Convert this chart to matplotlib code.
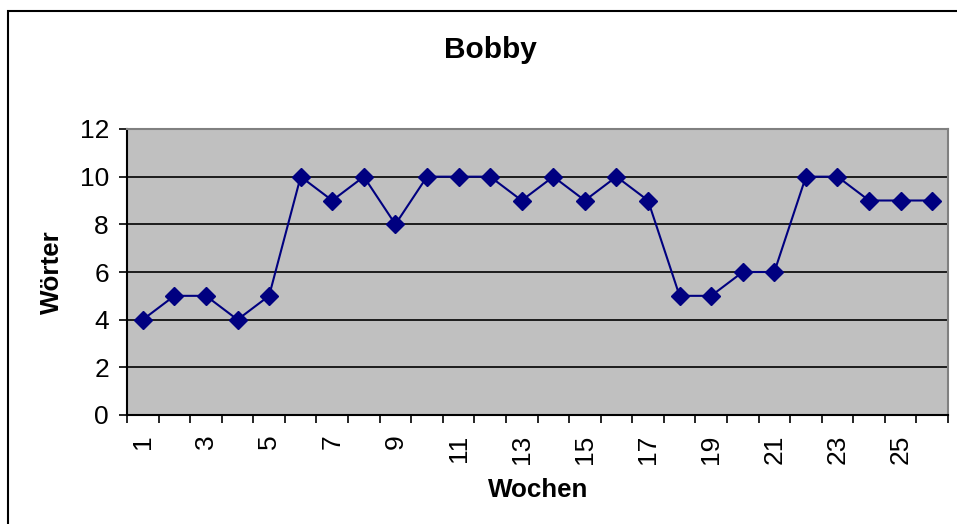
import matplotlib.pyplot as plt
from matplotlib.patches import Rectangle

wochen = list(range(1, 27))
woerter = [4, 5, 5, 4, 5, 10, 9, 10, 8, 10, 10, 10, 9, 10, 9, 10, 9, 5, 5, 6, 6, 10, 10, 9, 9, 9]
y_ticks = [0, 2, 4, 6, 8, 10, 12]

plt.rcParams['font.family'] = ['Liberation Sans', 'DejaVu Sans']

W, H = 957, 524
fig = plt.figure(figsize=(W / 100, H / 100), dpi=100, facecolor="w")
ax = fig.add_axes([127 / W, 1 - 415 / H, (948 - 127) / W, (415 - 129) / H])

# Rahmen um das Diagramm
fig.patches.append(Rectangle((8 / W, -0.1), 1.2, 1 - 11 / H + 0.1, transform=fig.transFigure,
                             fill=False, edgecolor="k", linewidth=1.5))

ax.set_facecolor("#C0C0C0")
ax.plot(wochen, woerter, color="#000080", linewidth=1.5, marker="D", markersize=9.5, zorder=3)

ax.set_xlim(0.5, 26.5)
ax.set_ylim(0, 12)
ax.set_yticks(y_ticks)
ax.set_yticklabels([str(v) for v in y_ticks], fontsize=19)
for v in y_ticks[1:-1]:
    ax.axhline(v, color="k", linewidth=1.2, zorder=1)

# Kategorieachse: Striche zwischen den Kategorien, Beschriftung jede zweite Woche
ax.set_xticks([w + 0.5 for w in range(0, 27)])
ax.set_xticklabels([])
ax.set_xticks(wochen[::2], minor=True)
ax.set_xticklabels([str(w) for w in wochen[::2]], minor=True, rotation=90, fontsize=19)
ax.tick_params(axis="x", which="minor", length=0, pad=14)
ax.tick_params(axis="x", which="major", length=6, width=1.2, direction="out")
ax.tick_params(axis="y", length=6, width=1.2, direction="out", pad=7)

for s in ["left", "bottom"]:
    ax.spines[s].set_color("k")
    ax.spines[s].set_linewidth(1.5)
for s in ["top", "right"]:
    ax.spines[s].set_color("#808080")
    ax.spines[s].set_linewidth(1.5)

fig.text(490 / W, 1 - 50 / H, "Bobby", fontsize=21.5, fontweight="bold", ha="center", va="center")
fig.text(52 / W, 1 - 272 / H, "Wörter", fontsize=18.7, fontweight="bold", rotation=90,
         ha="center", va="center")
fig.text(538 / W, 1 - 490 / H, "Wochen", fontsize=18.7, fontweight="bold", ha="center", va="center")

fig.savefig("out.png", dpi=100)
